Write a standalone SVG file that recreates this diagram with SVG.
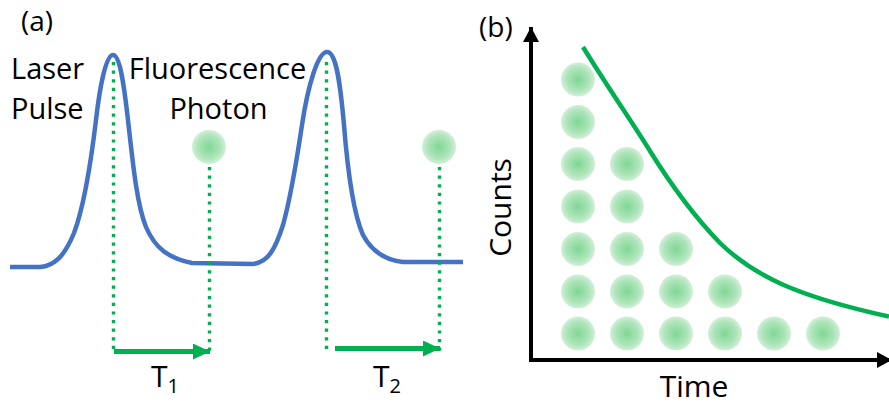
<svg xmlns="http://www.w3.org/2000/svg" width="889" height="405" viewBox="0 0 889 405">
<defs>
<radialGradient id="dotg" cx="50%" cy="50%" r="50%">
<stop offset="0%" stop-color="#7fd794"/>
<stop offset="70%" stop-color="#b0e5bc"/>
<stop offset="100%" stop-color="#d2f0d8"/>
</radialGradient>
<marker id="garrow" markerUnits="userSpaceOnUse" markerWidth="18" markerHeight="16" refX="17" refY="8" orient="auto">
<path d="M0,0 L17,8 L0,16 Z" fill="#00B050"/>
</marker>
<marker id="karrow" markerUnits="userSpaceOnUse" markerWidth="16" markerHeight="16" refX="15" refY="8" orient="auto">
<path d="M0,0 L15,8 L0,16 Z" fill="#000"/>
</marker>
</defs>
<style>
text{font-family:"Open Sans","Noto Sans","Liberation Sans",sans-serif;fill:#000}
.lbl{font-size:29px}
.dot{fill:url(#dotg)}
.dotted{stroke:#00B050;stroke-width:3.4;stroke-dasharray:3.2 5.4;fill:none}
.garr{stroke:#00B050;stroke-width:5;fill:none;marker-end:url(#garrow)}
.axis{stroke:#000;stroke-width:4;fill:none;marker-end:url(#karrow)}
</style>

<g id="panel-a">
<text x="21" y="31" font-size="28">(a)</text>
<g id="laser-label"><text class="lbl" x="11" y="79">Laser</text><text class="lbl" x="11" y="119">Pulse</text></g>
<g id="photon-label"><text class="lbl" x="217.5" y="79" text-anchor="middle">Fluorescence</text><text class="lbl" x="218.5" y="119" text-anchor="middle">Photon</text></g>
<g id="pulse-trace">
<path d="M10,267 L40,267 C55,266 65,255 74,233 C82,212 90,170 96,120 C100,85 106,55 113,55 C120,55 124,85 128,120 C133,165 137,205 146,227 C155,248 168,258 192,263 L253,264 C268,262 275,250 283,225 C290,200 296,165 302,125 C308,85 318,52 327,52 C336,52 340,80 344,125 C348,175 354,215 363,235 C372,252 385,260 403,262 L463,262" fill="none" stroke="#4472C4" stroke-width="4.5" stroke-linejoin="round"/>
</g>
<g id="photon-1"><circle class="dot" cx="209" cy="147" r="17"/></g>
<g id="photon-2"><circle class="dot" cx="439" cy="147" r="17"/></g>
<g id="connectors-a">
<line class="dotted" x1="113.5" y1="62" x2="113.5" y2="354"/>
<line class="dotted" x1="209.5" y1="167" x2="209.5" y2="354"/>
<line class="dotted" x1="326.5" y1="62" x2="326.5" y2="354"/>
<line class="dotted" x1="439.5" y1="167" x2="439.5" y2="354"/>
<line class="garr" x1="114" y1="351.5" x2="210" y2="351.5"/>
<line class="garr" x1="335" y1="348.5" x2="440" y2="348.5"/>
</g>
<g id="t1"><text x="151" y="387" font-size="30">T<tspan font-size="20" dy="6">1</tspan></text></g>
<g id="t2"><text x="373" y="387" font-size="30">T<tspan font-size="20" dy="6">2</tspan></text></g>
</g>

<g id="panel-b">
<text x="479" y="37" font-size="28">(b)</text>
<g id="axes">
<line class="axis" x1="531" y1="362" x2="531" y2="27"/>
<line class="axis" x1="529" y1="360" x2="892" y2="360"/>
</g>
<text x="694" y="397" text-anchor="middle" font-size="30">Time</text>
<text transform="translate(511,207.5) rotate(-90)" text-anchor="middle" font-size="30">Counts</text>
<g id="histogram">
<circle class="dot" cx="578" cy="79.5" r="17"/>
<circle class="dot" cx="578" cy="122" r="17"/>
<circle class="dot" cx="578" cy="164" r="17"/>
<circle class="dot" cx="627" cy="164" r="17"/>
<circle class="dot" cx="578" cy="206.5" r="17"/>
<circle class="dot" cx="627" cy="206.5" r="17"/>
<circle class="dot" cx="578" cy="249" r="17"/>
<circle class="dot" cx="627" cy="249" r="17"/>
<circle class="dot" cx="676" cy="249" r="17"/>
<circle class="dot" cx="578" cy="291.5" r="17"/>
<circle class="dot" cx="627" cy="291.5" r="17"/>
<circle class="dot" cx="676" cy="291.5" r="17"/>
<circle class="dot" cx="725" cy="291.5" r="17"/>
<circle class="dot" cx="578" cy="333.5" r="17"/>
<circle class="dot" cx="627" cy="333.5" r="17"/>
<circle class="dot" cx="676" cy="333.5" r="17"/>
<circle class="dot" cx="725" cy="333.5" r="17"/>
<circle class="dot" cx="774" cy="333.5" r="17"/>
<circle class="dot" cx="823" cy="333.5" r="17"/>
</g>
<g id="decay-curve">
<path fill="none" stroke="#00B050" stroke-width="4.5" d="M583,47 C605,83 632,122 650,151 C668,180 690,212 720,243 C755,277 800,297 889,316.5"/>
</g>
</g>
</svg>
